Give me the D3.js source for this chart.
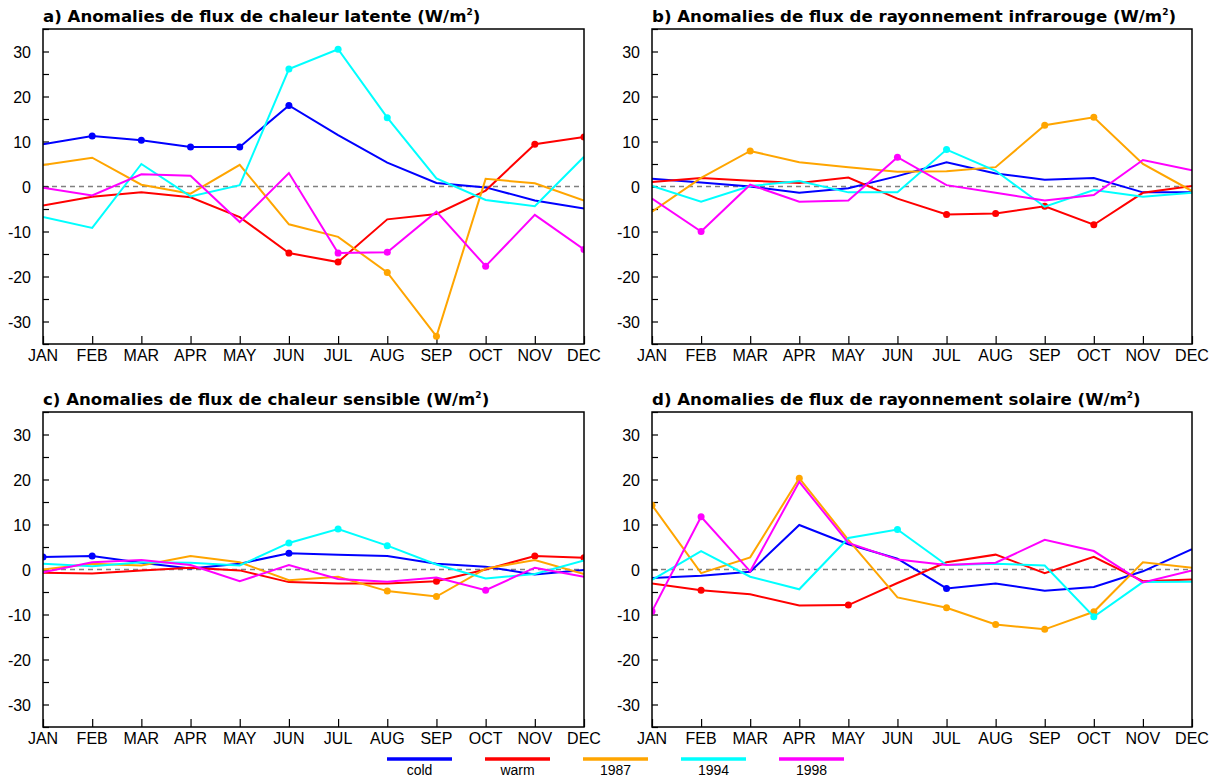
<!DOCTYPE html>
<html>
<head>
<meta charset="utf-8">
<script src="https://cdn.jsdelivr.net/npm/d3@7"></script>
<style>
  html, body { margin: 0; padding: 0; background: #fff; }
  svg { display: block; }
</style>
</head>
<body>
<svg id="chart" width="1215" height="779"></svg>
<script>
// ---------- DATA ----------
const months = ["JAN","FEB","MAR","APR","MAY","JUN","JUL","AUG","SEP","OCT","NOV","DEC"];
const seriesNames = ["cold","warm","1987","1994","1998"];
const seriesColors = ["#0000ff","#ff0000","#ffa500","#00ffff","#ff00ff"];
const yTicksMajor = [-30,-20,-10,0,10,20,30];
const yTicksMinor = [-35,-25,-15,-5,5,15,25,35];
const panelTitles = [
  "a) Anomalies de flux de chaleur latente (W/m",
  "b) Anomalies de flux de rayonnement infrarouge (W/m",
  "c) Anomalies de flux de chaleur sensible (W/m",
  "d) Anomalies de flux de rayonnement solaire (W/m"
];

// a) latent heat
const latentCold = [9.4, 11.2, 10.3, 8.8, 8.8, 18.0, 11.4, 5.3, 0.8, -0.2, -3.1, -4.9];
const latentWarm = [-4.2, -2.3, -1.3, -2.4, -6.8, -14.8, -16.8, -7.3, -6.1, -0.9, 9.4, 11.0];
const latent1987 = [4.8, 6.4, 0.4, -1.6, 4.8, -8.4, -11.2, -19.1, -33.3, 1.7, 0.7, -3.1];
const latent1994 = [-6.8, -9.2, 5.0, -2.2, 0.3, 26.1, 30.5, 15.3, 1.8, -3.0, -4.4, 6.6];
const latent1998 = [-0.3, -2.0, 2.7, 2.4, -7.9, 3.0, -14.8, -14.6, -5.6, -17.7, -6.3, -14.0];
const latentMarks = [[1,2,3,4,5],[5,6,10,11],[7,8],[5,6,7],[6,7,9,11]];

// b) infrared
const infraCold = [1.7, 0.9, 0.0, -1.4, -0.4, 2.3, 5.4, 2.9, 1.5, 1.9, -1.3, -1.3];
const infraWarm = [1.0, 1.9, 1.3, 0.8, 2.0, -2.7, -6.2, -6.0, -4.4, -8.5, -1.4, 0.1];
const infra1987 = [-5.6, 1.9, 7.9, 5.4, 4.3, 3.3, 3.4, 4.3, 13.6, 15.4, 5.0, -1.0];
const infra1994 = [0.1, -3.4, 0.1, 1.2, -1.3, -1.3, 8.2, 3.5, -4.5, -0.8, -2.3, -1.4];
const infra1998 = [-2.7, -10.0, 0.4, -3.4, -3.1, 6.5, 0.3, -1.4, -3.1, -1.9, 5.9, 3.6];
const infraMarks = [[],[6,7,8,9],[2,8,9],[6],[1,5]];

// c) sensible heat
const sensCold = [2.8, 3.0, 1.5, 0.2, 1.3, 3.6, 3.3, 3.0, 1.3, 0.6, -1.1, -0.1];
const sensWarm = [-0.7, -0.9, -0.2, 0.4, -0.2, -2.8, -3.1, -3.1, -2.6, 0.0, 3.0, 2.6];
const sens1987 = [0.0, 1.3, 0.9, 3.0, 1.6, -2.4, -1.6, -4.8, -6.0, 0.2, 2.1, -1.0];
const sens1994 = [1.3, 0.7, 1.6, 1.5, 0.9, 5.9, 9.0, 5.3, 1.1, -2.0, -1.0, 2.0];
const sens1998 = [-0.6, 1.6, 2.1, 1.0, -2.6, 1.0, -2.1, -2.7, -1.8, -4.6, 0.4, -1.6];
const sensMarks = [[0,1,5],[8,10,11],[7,8],[5,6,7],[9]];

// d) solar
const solarCold = [-1.9, -1.4, -0.5, 9.9, 5.6, 2.4, -4.2, -3.1, -4.7, -3.9, -0.4, 4.5];
const solarWarm = [-3.1, -4.6, -5.5, -8.0, -7.9, -3.0, 1.6, 3.3, -0.8, 2.8, -2.6, -2.2];
const solar1987 = [14.3, -0.8, 2.7, 20.3, 6.6, -6.2, -8.5, -12.2, -13.3, -9.4, 1.6, 0.4];
const solar1994 = [-2.3, 4.1, -1.6, -4.4, 7.0, 8.9, 1.0, 1.3, 0.9, -10.5, -2.8, -2.7];
const solar1998 = [-9.3, 11.7, -0.4, 19.5, 5.9, 2.2, 1.0, 1.5, 6.6, 4.1, -2.9, -0.2];
const solarMarks = [[6],[1,4],[0,3,6,7,8,9],[5,9],[0,1]];

const panelData = [
  [latentCold, latentWarm, latent1987, latent1994, latent1998],
  [infraCold, infraWarm, infra1987, infra1994, infra1998],
  [sensCold, sensWarm, sens1987, sens1994, sens1998],
  [solarCold, solarWarm, solar1987, solar1994, solar1998]
];
const panelMarks = [latentMarks, infraMarks, sensMarks, solarMarks];

// ---------- LAYOUT ----------
const panelBoxes = [
  {x0: 43,  x1: 584,  y0: 29,  y1: 344},
  {x0: 652, x1: 1192, y0: 29,  y1: 344},
  {x0: 43,  x1: 584,  y0: 412, y1: 727},
  {x0: 652, x1: 1192, y0: 412, y1: 727}
];
const FONT = "'Liberation Sans', Arial, sans-serif";

const svg = d3.select("#chart");

panelBoxes.forEach((b, pi) => {
  const x = d3.scalePoint().domain(months).range([b.x0, b.x1]);
  const y = d3.scaleLinear().domain([-35, 35]).range([b.y1, b.y0]);
  const g = svg.append("g");

  const clipId = "clip" + pi;
  svg.append("clipPath").attr("id", clipId)
    .append("rect").attr("x", b.x0).attr("y", b.y0)
    .attr("width", b.x1 - b.x0).attr("height", b.y1 - b.y0);

  // title
  const t = g.append("text")
    .attr("x", b.x0).attr("y", b.y0 - 7)
    .attr("font-family", "'DejaVu Sans', Verdana, sans-serif")
    .attr("font-weight", "bold").attr("font-size", 16.6)
    .attr("fill", "#000");
  t.append("tspan").text(panelTitles[pi]);
  t.append("tspan").attr("dy", -7).attr("font-size", 9).text("2");
  t.append("tspan").attr("dy", 7).text(")");

  // zero dashed line
  g.append("line")
    .attr("x1", b.x0).attr("x2", b.x1)
    .attr("y1", y(0)).attr("y2", y(0))
    .attr("stroke", "#808080").attr("stroke-width", 1.3)
    .attr("stroke-dasharray", "5,4");

  // y axis (inward ticks)
  const yAxis = d3.axisRight(y).tickValues(yTicksMajor).tickSize(6).tickFormat("");
  const yg = g.append("g").attr("transform", `translate(${b.x0},0)`).call(yAxis);
  const yAxisMinor = d3.axisRight(y).tickValues(yTicksMinor).tickSize(6).tickFormat("");
  const ygm = g.append("g").attr("transform", `translate(${b.x0},0)`).call(yAxisMinor);
  [yg, ygm].forEach(s => {
    s.select(".domain").remove();
    s.selectAll(".tick line").attr("stroke", "#000").attr("stroke-width", 1.2);
  });
  g.selectAll(".ylab").data(yTicksMajor).enter().append("text")
    .attr("x", b.x0 - 12).attr("y", d => y(d) + 6)
    .attr("text-anchor", "end")
    .attr("font-family", FONT).attr("font-size", 16)
    .attr("fill", "#000")
    .text(d => d);

  // x axis (inward ticks)
  const xAxis = d3.axisTop(x).tickSize(8).tickFormat("");
  const xg = g.append("g").attr("transform", `translate(0,${b.y1})`).call(xAxis);
  xg.select(".domain").remove();
  xg.selectAll(".tick line").attr("stroke", "#000").attr("stroke-width", 1.2);
  g.selectAll(".xlab").data(months).enter().append("text")
    .attr("x", d => x(d)).attr("y", b.y1 + 17)
    .attr("text-anchor", "middle")
    .attr("font-family", FONT).attr("font-size", 16)
    .attr("fill", "#000")
    .text(d => d);

  // series
  const line = d3.line().x((d, i) => x(months[i])).y(d => y(d));
  const sg = g.append("g").attr("clip-path", `url(#${clipId})`);
  panelData[pi].forEach((vals, si) => {
    sg.append("path").datum(vals)
      .attr("d", line)
      .attr("fill", "none")
      .attr("stroke", seriesColors[si])
      .attr("stroke-width", 2)
      .attr("stroke-linejoin", "miter");
    sg.selectAll(null).data(panelMarks[pi][si]).enter().append("circle")
      .attr("cx", i => x(months[i]))
      .attr("cy", i => y(vals[i]))
      .attr("r", 3.5)
      .attr("fill", seriesColors[si]);
  });

  // frame
  g.append("rect")
    .attr("x", b.x0).attr("y", b.y0)
    .attr("width", b.x1 - b.x0).attr("height", b.y1 - b.y0)
    .attr("fill", "none").attr("stroke", "#000").attr("stroke-width", 1.5);
});

// ---------- LEGEND ----------
const legendX = d3.scalePoint().domain(seriesNames).range([419.5, 811.5]);
const lg = svg.append("g");
seriesNames.forEach((n, i) => {
  const cx = legendX(n);
  lg.append("line")
    .attr("x1", cx - 32.5).attr("x2", cx + 32.5)
    .attr("y1", 759).attr("y2", 759)
    .attr("stroke", seriesColors[i]).attr("stroke-width", 3.5);
  lg.append("text")
    .attr("x", cx).attr("y", 775)
    .attr("text-anchor", "middle")
    .attr("font-family", FONT).attr("font-size", 14)
    .attr("fill", "#000")
    .text(n);
});
</script>
</body>
</html>
